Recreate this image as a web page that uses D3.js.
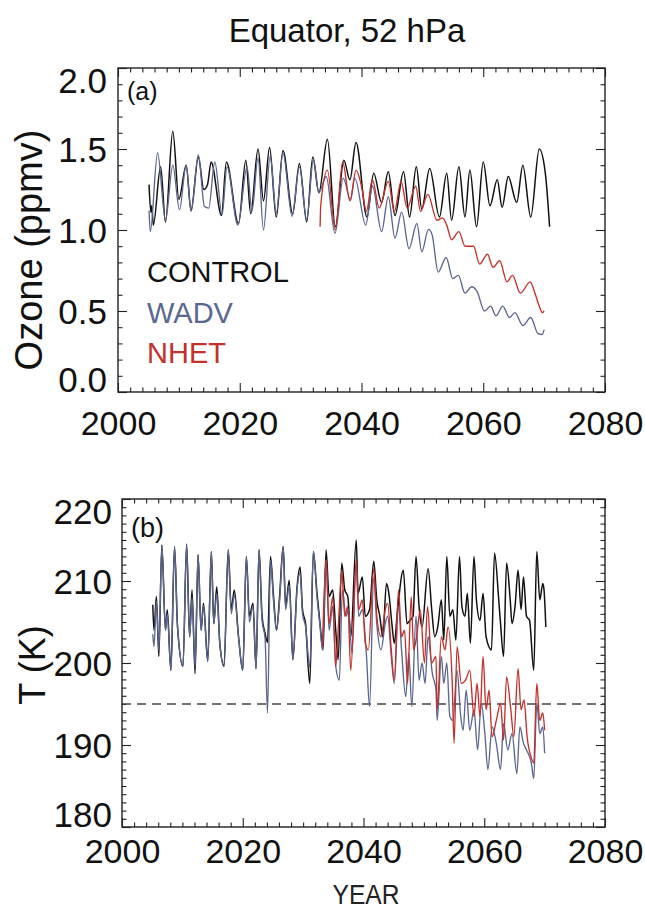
<!DOCTYPE html>
<html><head><meta charset="utf-8">
<script src="https://cdn.jsdelivr.net/npm/d3@7"></script>
<style>body{margin:0;background:#fff} svg{display:block} text{font-family:"Liberation Sans",Arial,Helvetica,sans-serif}</style>
</head><body><svg id="c" width="645" height="912"></svg>
<script>
const titleText="Equator, 52 hPa";
const xTicks=[2000,2020,2040,2060,2080];
const o3Ticks=[0.0,0.5,1.0,1.5,2.0];
const tTicks=[180,190,200,210,220];
const seriesNames=["CONTROL","WADV","NHET"];
const seriesColors=["#111111","#5b6790","#c4302b"];
const tThreshold=195;

const o3Control=[[2005.1,1.28],[2005.4,1.11],[2005.55,1.15],[2005.8,1.03],[2007.0,1.39],[2007.8,1.05],[2009.0,1.61],[2010.0,1.19],[2011.2,1.40],[2012.0,1.12],[2013.2,1.45],[2014.1,1.25],[2014.7,1.28],[2015.3,1.42],[2017.0,1.09],[2017.8,1.42],[2019.8,1.04],[2021.0,1.43],[2021.8,1.10],[2023.0,1.50],[2023.9,1.18],[2024.9,1.51],[2026.0,1.08],[2027.1,1.49],[2028.7,1.10],[2029.8,1.41],[2031.0,1.05],[2032.0,1.45],[2033.0,1.23],[2034.4,1.56],[2035.7,1.02],[2037.1,1.43],[2038.1,1.31],[2039.1,1.54],[2040.9,1.08],[2042.0,1.35],[2043.3,1.17],[2044.4,1.36],[2045.5,1.09],[2046.9,1.36],[2047.9,1.08],[2049.0,1.39],[2049.9,1.13],[2051.2,1.38],[2052.8,1.08],[2054.0,1.35],[2054.8,1.06],[2056.0,1.39],[2057.0,1.08],[2057.8,1.37],[2058.9,1.02],[2060.0,1.42],[2061.1,1.15],[2062.3,1.31],[2063.1,1.14],[2064.1,1.33],[2065.5,1.17],[2066.5,1.40],[2067.8,1.08],[2069.2,1.50],[2070.2,1.35],[2070.9,1.02]];

const o3Wadv=[[2005.1,1.12],[2005.3,0.99],[2006.5,1.475],[2007.8,1.06],[2009.0,1.40],[2010.1,1.125],[2011.2,1.40],[2012.0,1.115],[2013.2,1.465],[2014.2,1.145],[2014.9,1.135],[2015.9,1.42],[2017.1,1.095],[2017.9,1.39],[2019.7,1.03],[2021.2,1.39],[2022.0,1.115],[2023.0,1.445],[2023.9,1.00],[2025.0,1.455],[2026.0,1.105],[2027.1,1.475],[2028.6,1.085],[2029.8,1.39],[2031.0,1.065],[2032.1,1.435],[2033.0,1.23],[2034.2,1.33],[2035.65,0.98],[2037.0,1.32],[2038.2,1.185],[2038.9,1.32],[2040.7,1.03],[2041.8,1.27],[2043.3,0.99],[2044.4,1.205],[2045.5,0.95],[2046.6,1.11],[2047.8,0.885],[2049.1,1.04],[2049.9,0.866],[2051.0,1.004],[2051.6,0.97],[2052.6,0.74],[2053.9,0.83],[2055.0,0.70],[2055.9,0.72],[2057.0,0.61],[2058.1,0.65],[2059.0,0.62],[2060.2,0.50],[2061.2,0.53],[2062.1,0.47],[2063.2,0.53],[2064.3,0.46],[2065.2,0.49],[2066.5,0.41],[2067.8,0.46],[2069.0,0.36],[2069.7,0.355],[2070.0,0.385]];

const o3Nhet=[[2033.2,1.02],[2033.3,1.15],[2034.4,1.37],[2035.7,1.00],[2036.9,1.42],[2038.1,1.18],[2039.1,1.37],[2040.0,1.27],[2040.8,1.115],[2041.8,1.31],[2042.9,1.135],[2044.4,1.30],[2045.4,1.115],[2046.5,1.30],[2047.5,1.135],[2048.9,1.27],[2049.7,1.115],[2050.9,1.22],[2052.4,1.06],[2053.3,1.075],[2054.0,1.03],[2054.8,0.94],[2056.0,0.99],[2057.0,0.90],[2058.4,0.90],[2059.4,0.79],[2060.7,0.85],[2061.6,0.77],[2062.7,0.81],[2063.9,0.68],[2064.8,0.72],[2066.1,0.61],[2067.7,0.68],[2068.5,0.61],[2069.2,0.53],[2069.7,0.49],[2070.0,0.50]];

const tControl=[[2005.1,207.1],[2005.3,204.0],[2005.7,208.1],[2006.1,200.8],[2006.6,214.4],[2007.2,204.0],[2007.5,206.5],[2008.1,199.1],[2008.7,214.2],[2009.2,204.4],[2010.1,199.6],[2010.7,214.5],[2011.2,203.2],[2011.6,208.9],[2012.1,198.7],[2012.6,213.2],[2013.1,204.0],[2013.5,207.3],[2014.2,200.2],[2014.8,213.6],[2015.2,204.8],[2015.7,209.3],[2016.2,202.4],[2016.9,199.6],[2017.6,213.8],[2018.1,206.5],[2018.6,208.9],[2019.3,203.2],[2020.0,199.1],[2020.6,213.0],[2021.1,205.7],[2021.7,207.3],[2022.2,199.3],[2022.7,213.8],[2023.2,205.7],[2023.7,203.6],[2024.1,202.5],[2024.6,213.0],[2025.1,208.1],[2025.6,204.0],[2026.1,208.1],[2026.7,214.2],[2027.1,206.9],[2027.7,210.1],[2028.3,200.4],[2029.0,209.3],[2029.5,211.7],[2029.9,206.5],[2030.4,204.8],[2031.1,197.5],[2031.7,213.6],[2032.3,208.5],[2032.8,204.8],[2033.3,201.6],[2033.8,213.8],[2034.3,208.1],[2034.9,208.9],[2035.4,204.0],[2035.8,200.4],[2036.4,212.2],[2036.9,208.9],[2037.4,208.1],[2037.9,203.2],[2038.8,215.0],[2039.1,208.5],[2039.8,210.5],[2040.3,205.7],[2041.0,206.5],[2041.7,212.4],[2042.2,207.7],[2042.7,205.7],[2043.2,203.2],[2043.8,209.7],[2044.2,208.5],[2044.7,204.8],[2045.1,202.4],[2045.6,206.1],[2046.6,211.3],[2047.2,204.8],[2047.7,205.2],[2048.2,205.7],[2048.7,213.0],[2049.2,206.9],[2049.7,204.4],[2050.7,211.5],[2051.3,206.5],[2051.8,203.2],[2052.3,204.4],[2052.9,207.7],[2053.3,202.8],[2053.8,213.0],[2054.3,205.7],[2054.8,206.5],[2055.3,202.8],[2055.9,213.0],[2056.3,206.9],[2056.8,205.7],[2057.2,208.5],[2057.7,202.4],[2058.3,213.0],[2058.7,207.7],[2059.3,205.2],[2059.8,208.5],[2060.3,203.2],[2061.2,201.6],[2061.7,213.4],[2062.4,207.7],[2062.7,204.8],[2063.2,200.8],[2063.7,212.2],[2064.3,207.7],[2064.6,204.8],[2065.1,206.9],[2065.6,211.3],[2066.1,206.5],[2066.5,210.5],[2067.0,205.7],[2067.5,205.2],[2068.2,199.1],[2068.7,213.6],[2069.2,207.7],[2069.7,209.7],[2069.9,208.9],[2070.2,204.4]];

const tWadv=[[2005.1,203.5],[2005.3,202.0],[2005.7,207.5],[2006.1,201.5],[2006.6,214.4],[2007.2,204.0],[2007.5,206.0],[2008.1,199.1],[2008.7,214.2],[2009.2,204.4],[2010.1,199.6],[2010.7,214.5],[2011.2,203.2],[2011.6,208.0],[2012.1,199.5],[2012.6,213.2],[2013.1,204.0],[2013.5,207.0],[2014.2,200.2],[2014.8,213.6],[2015.2,204.8],[2015.7,208.5],[2016.2,202.4],[2016.9,199.6],[2017.6,213.8],[2018.1,206.0],[2018.6,208.3],[2019.3,203.2],[2020.0,199.1],[2020.6,213.0],[2021.1,205.0],[2021.7,207.0],[2022.2,199.3],[2022.7,213.8],[2023.2,205.2],[2023.7,203.0],[2024.1,193.9],[2024.6,212.5],[2025.1,207.5],[2025.6,204.0],[2026.1,207.5],[2026.7,214.2],[2027.1,206.5],[2027.7,209.5],[2028.3,200.4],[2029.0,209.0],[2029.5,211.0],[2029.9,206.0],[2030.4,204.5],[2031.1,199.5],[2031.7,213.6],[2032.3,208.0],[2032.8,204.5],[2033.2,201.6],[2033.8,212.6],[2034.3,204.0],[2034.9,206.9],[2035.4,199.6],[2036.0,197.9],[2036.5,208.9],[2037.1,205.7],[2037.5,206.5],[2038.1,201.2],[2038.8,212.2],[2039.2,205.7],[2039.8,206.5],[2040.5,200.8],[2041.0,194.7],[2041.7,210.5],[2042.2,204.8],[2042.9,201.6],[2043.6,204.8],[2044.0,205.7],[2044.6,200.8],[2045.1,197.5],[2045.8,206.9],[2046.3,201.6],[2047.0,195.9],[2047.5,201.2],[2048.0,194.7],[2048.7,205.7],[2049.2,197.9],[2049.7,200.0],[2050.2,197.5],[2050.7,203.2],[2051.4,198.7],[2052.0,196.7],[2052.2,193.0],[2052.9,200.8],[2053.3,197.5],[2053.8,200.0],[2054.3,193.5],[2054.8,193.0],[2055.5,199.1],[2056.1,193.5],[2056.5,191.8],[2057.0,196.7],[2057.6,191.8],[2058.3,194.3],[2058.9,189.4],[2059.5,195.1],[2060.1,191.4],[2060.6,187.0],[2061.3,192.2],[2062.0,190.2],[2062.7,187.0],[2063.2,192.6],[2063.9,189.4],[2064.6,191.4],[2065.4,186.5],[2065.9,192.2],[2066.5,190.2],[2067.0,189.4],[2067.8,187.8],[2068.2,185.9],[2068.7,195.1],[2069.2,191.4],[2069.7,192.2],[2070.0,189.0]];

const tNhet=[[2033.2,202.0],[2033.8,212.6],[2034.3,204.8],[2034.9,208.1],[2035.4,199.6],[2035.8,204.0],[2036.4,211.3],[2036.9,205.7],[2037.4,206.9],[2037.9,199.1],[2038.8,212.6],[2039.2,206.5],[2039.8,207.7],[2040.3,202.4],[2040.8,201.6],[2041.7,211.5],[2042.2,205.7],[2042.9,203.2],[2043.6,206.5],[2044.0,207.3],[2044.6,201.6],[2045.1,197.9],[2045.8,208.9],[2046.3,203.2],[2046.8,204.0],[2047.3,197.5],[2047.9,208.1],[2048.3,201.6],[2048.8,203.2],[2049.4,206.5],[2050.1,200.0],[2050.6,206.9],[2051.3,200.0],[2052.0,200.8],[2052.2,194.3],[2052.9,203.2],[2053.5,201.6],[2054.0,204.4],[2054.7,197.5],[2055.0,190.2],[2055.5,202.0],[2056.2,197.5],[2056.9,197.9],[2057.6,199.1],[2058.3,193.5],[2058.8,197.5],[2059.3,193.5],[2059.8,200.8],[2060.3,194.3],[2060.8,196.7],[2061.3,191.0],[2062.0,193.0],[2062.7,195.1],[2063.2,190.6],[2063.7,198.3],[2064.4,194.3],[2064.9,191.0],[2065.6,199.3],[2066.1,194.3],[2066.6,195.5],[2067.1,191.0],[2067.8,188.4],[2068.2,187.8],[2068.7,197.5],[2069.2,193.0],[2069.7,193.9],[2070.0,191.8]];

const svg=d3.select("#c");
const FONT='"Liberation Sans",Arial,Helvetica,sans-serif';

svg.append("text").attr("x",347).attr("y",42).attr("text-anchor","middle")
  .attr("font-size",33).attr("fill","#111").text(titleText);

function panel(cfg){
  const {left,right,top,bottom,yDomain,yTicks,yMinorStep,yFmt,series,label,labelPos,yTitle,yTitlePos}=cfg;
  const x=d3.scaleLinear().domain([2000,2080]).range([left,right]);
  const y=d3.scaleLinear().domain(yDomain).range([bottom,top]);
  const g=svg.append("g");
  const xMinor=d3.range(2000,2081,2).filter(v=>!xTicks.includes(v));
  const yMinor=d3.range(yDomain[0],yDomain[1]+1e-9,yMinorStep).map(v=>+v.toFixed(3)).filter(v=>!yTicks.some(t=>Math.abs(t-v)<1e-6));
  const axes=[
    [d3.axisBottom(x),`translate(0,${bottom})`,xTicks,xMinor],
    [d3.axisTop(x),`translate(0,${top})`,xTicks,xMinor],
    [d3.axisLeft(y),`translate(${left},0)`,yTicks,yMinor],
    [d3.axisRight(y),`translate(${right},0)`,yTicks,yMinor]];
  axes.forEach(([ax,tr,maj,min])=>{
    g.append("g").attr("transform",tr).call(ax.tickValues(maj).tickSizeInner(-9).tickSizeOuter(0).tickFormat(""))
      .call(s=>s.select(".domain").remove()).selectAll("line").attr("stroke","#222").attr("stroke-width",1.1);
    g.append("g").attr("transform",tr).call(ax.tickValues(min).tickSizeInner(-4.5).tickSizeOuter(0).tickFormat(""))
      .call(s=>s.select(".domain").remove()).selectAll("line").attr("stroke","#222").attr("stroke-width",1.1);
  });
  const xl=g.append("g").attr("transform",`translate(0,${bottom})`)
    .call(d3.axisBottom(x).tickValues(xTicks).tickSize(0).tickPadding(cfg.xPad).tickFormat(d3.format("d")));
  xl.select(".domain").remove();
  xl.selectAll("text").attr("font-size",34).attr("font-family",FONT).attr("fill","#111");
  const yl=g.append("g").attr("transform",`translate(${left},0)`)
    .call(d3.axisLeft(y).tickValues(yTicks).tickSize(0).tickPadding(cfg.yPad).tickFormat(d3.format(yFmt)));
  yl.select(".domain").remove();
  yl.selectAll("text").attr("font-size",35).attr("font-family",FONT).attr("fill","#111")
    .attr("dy",d=> d===yDomain[1]? "0.7em" : d===yDomain[0]? "-0.02em":"0.36em");
  if(cfg.threshold!==undefined){
    g.append("line").attr("x1",left).attr("x2",right).attr("y1",y(cfg.threshold)).attr("y2",y(cfg.threshold))
      .attr("stroke","#444").attr("stroke-width",1.3).attr("stroke-dasharray","9,6");
  }
  const line=d3.line().x(d=>x(d[0])).y(d=>y(d[1])).curve(d3.curveMonotoneX);
  series.forEach(s=>{
    g.append("path").datum(s.data).attr("d",line).attr("fill","none")
      .attr("stroke",seriesColors[s.idx]).attr("stroke-width",s.idx===0?1.5:1.35).attr("stroke-linejoin","round");
  });
  g.append("rect").attr("x",left).attr("y",top).attr("width",right-left).attr("height",bottom-top)
    .attr("fill","none").attr("stroke","#222").attr("stroke-width",1.4);
  g.append("text").attr("x",labelPos[0]).attr("y",labelPos[1]).attr("font-size",cfg.labelSize).attr("fill","#111").text(label);
  g.append("text").attr("transform",`translate(${yTitlePos[0]},${yTitlePos[1]}) rotate(-90)`)
    .attr("text-anchor","middle").attr("font-size",cfg.yTitleSize).attr("fill","#111").text(yTitle);
  return {x,y,g};
}

const pa=panel({left:118,right:605,top:68,bottom:392,yDomain:[0,2],yTicks:o3Ticks,yMinorStep:0.1,yFmt:".1f",
  xPad:19,yPad:11,label:"(a)",labelPos:[127,100],labelSize:25,yTitle:"Ozone (ppmv)",yTitleSize:38,yTitlePos:[42,250],
  series:[{idx:0,data:o3Control},{idx:1,data:o3Wadv},{idx:2,data:o3Nhet}]});
const pb=panel({left:122,right:605,top:499,bottom:827,yDomain:[180,220],yTicks:tTicks,yMinorStep:1,yFmt:"d",
  xPad:12,yPad:10,label:"(b)",labelPos:[131,537],labelSize:27,yTitle:"T (K)",yTitleSize:36,yTitlePos:[45,665],threshold:tThreshold,
  series:[{idx:0,data:tControl},{idx:1,data:tWadv},{idx:2,data:tNhet}]});

seriesNames.forEach((n,i)=>{
  pa.g.append("text").attr("x",147).attr("y",282+i*40.5).attr("font-size",29).attr("fill",seriesColors[i]).text(n);
});
svg.append("text").attr("x",366).attr("y",904).attr("text-anchor","middle").attr("font-size",27)
  .attr("fill","#222").attr("textLength",67).attr("lengthAdjust","spacingAndGlyphs").text("YEAR");
</script></body></html>
